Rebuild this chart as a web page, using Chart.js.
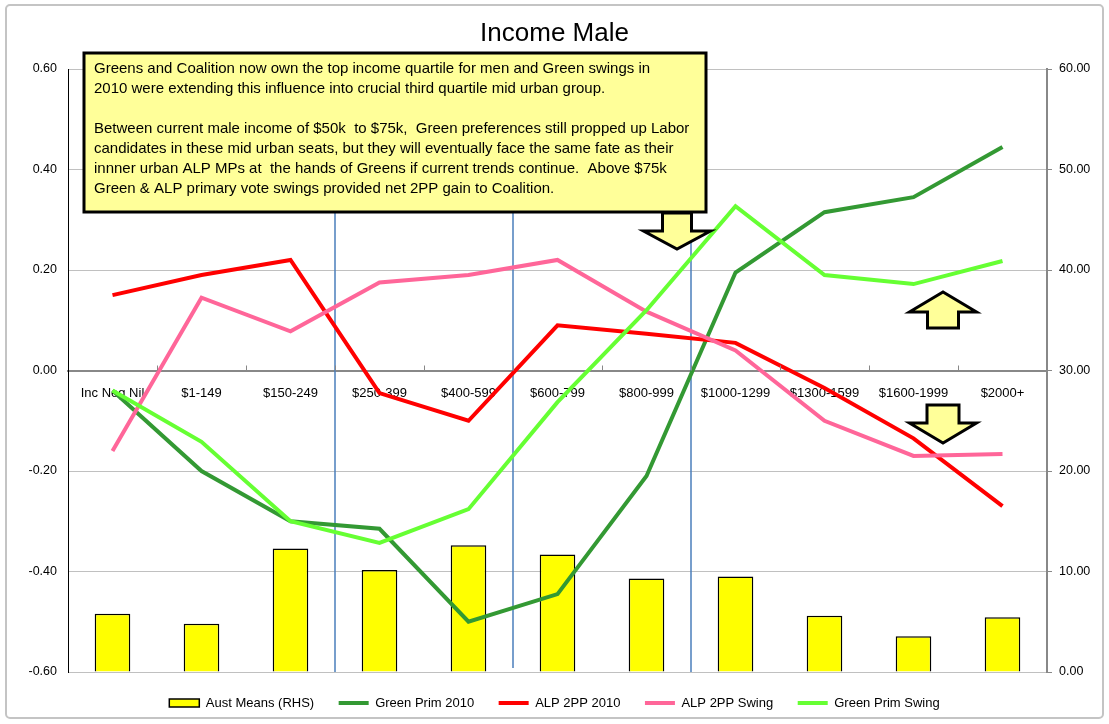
<!DOCTYPE html>
<html>
<head>
<meta charset="utf-8">
<title>Income Male</title>
<script src="https://cdn.jsdelivr.net/npm/chart.js@4.4.1/dist/chart.umd.min.js"></script>
<style>
  html, body { margin: 0; padding: 0; background: #fff; }
</style>
</head>
<body>
<canvas id="incomeChart" width="1109" height="724"></canvas>
<script>
// income groups (weekly male income)
const incomeBands = ["Inc Neg Nil", "$1-149", "$150-249", "$250-399", "$400-599", "$600-799",
  "$800-999", "$1000-1299", "$1300-1599", "$1600-1999", "$2000+"];

// right hand scale - bars
const austMeans = [5.8, 4.8, 12.3, 10.15, 12.6, 11.7, 9.3, 9.5, 5.6, 3.55, 5.45];

// left hand scale - lines
const greenPrim2010 = [-0.04, -0.20, -0.30, -0.315, -0.50, -0.445, -0.21, 0.195, 0.315, 0.345, 0.445];
const alp2pp2010 = [0.15, 0.19, 0.22, -0.045, -0.10, 0.09, 0.073, 0.055, -0.035, -0.135, -0.27];
const alp2ppSwing = [-0.16, 0.145, 0.078, 0.175, 0.19, 0.22, 0.117, 0.04, -0.10, -0.17, -0.166];
const greenPrimSwing = [-0.04, -0.142, -0.30, -0.343, -0.276, -0.063, 0.12, 0.327, 0.19, 0.172, 0.218];

const noteLines = [
  "Greens and Coalition now own the top income quartile for men and Green swings in",
  "2010 were extending this influence into crucial third quartile mid urban group.",
  "",
  "Between current male income of $50k  to $75k,  Green preferences still propped up Labor",
  "candidates in these mid urban seats, but they will eventually face the same fate as their",
  "innner urban ALP MPs at  the hands of Greens if current trends continue.  Above $75k",
  "Green & ALP primary vote swings provided net 2PP gain to Coalition."
];

const FONT = "'Liberation Sans', Arial, sans-serif";
Chart.defaults.font.family = FONT;
Chart.defaults.color = '#000';

function drawArrow(ctx, cx, shaftW, headW, y0, y1, headY) {
  // y0 = shaft end, y1 = tip, headY = where the head starts
  ctx.beginPath();
  ctx.moveTo(cx - shaftW / 2, y0);
  ctx.lineTo(cx - shaftW / 2, headY);
  ctx.lineTo(cx - headW / 2, headY);
  ctx.lineTo(cx, y1);
  ctx.lineTo(cx + headW / 2, headY);
  ctx.lineTo(cx + shaftW / 2, headY);
  ctx.lineTo(cx + shaftW / 2, y0);
  ctx.closePath();
  ctx.fill();
  ctx.stroke();
}

const chartDecor = {
  id: 'chartDecor',
  beforeDraw(chart) {
    const ctx = chart.ctx;
    ctx.save();
    ctx.fillStyle = '#fff';
    ctx.fillRect(0, 0, chart.width, chart.height);
    ctx.strokeStyle = '#c4c4c4';
    ctx.lineWidth = 2;
    ctx.beginPath();
    ctx.roundRect(6, 5, 1097, 713, 4);
    ctx.stroke();
    ctx.restore();
  },
  beforeDatasetsDraw(chart) {
    // blue dividers between groups of income bands
    const ctx = chart.ctx;
    const x = chart.scales.x;
    const area = chart.chartArea;
    const dividers = [{after: 2, top: 213, bottom: area.bottom},
                      {after: 4, top: 213, bottom: area.bottom - 4},
                      {after: 6, top: 242, bottom: area.bottom}];
    ctx.save();
    ctx.strokeStyle = '#4a7ebb';
    ctx.lineWidth = 1.5;
    for (const d of dividers) {
      const px = (x.getPixelForValue(d.after) + x.getPixelForValue(d.after + 1)) / 2;
      ctx.beginPath();
      ctx.moveTo(px, d.top);
      ctx.lineTo(px, d.bottom);
      ctx.stroke();
    }
    ctx.restore();
  },
  afterDraw(chart) {
    const ctx = chart.ctx;
    const x = chart.scales.x;
    const zeroY = chart.scales.y.getPixelForValue(0);
    ctx.save();
    // small tick marks on the category axis, pointing up
    ctx.strokeStyle = '#888';
    ctx.lineWidth = 1;
    for (let i = 0; i < incomeBands.length - 1; i++) {
      const px = Math.round((x.getPixelForValue(i) + x.getPixelForValue(i + 1)) / 2) + 0.5;
      ctx.beginPath();
      ctx.moveTo(px, zeroY);
      ctx.lineTo(px, zeroY - 5);
      ctx.stroke();
    }

    // the comment box
    ctx.fillStyle = '#ffff99';
    ctx.strokeStyle = '#000';
    ctx.lineWidth = 3;
    ctx.fillRect(84, 53, 622, 159);
    ctx.strokeRect(84, 53, 622, 159);
    ctx.fillStyle = '#000';
    ctx.font = '15px ' + FONT;
    ctx.textBaseline = 'middle';
    noteLines.forEach((line, i) => {
      ctx.fillText(line, 94, 69 + i * 20);
    });

    // block arrows
    ctx.fillStyle = '#ffff99';
    ctx.lineJoin = 'miter';
    drawArrow(ctx, 677, 29, 67, 213, 249, 231);
    drawArrow(ctx, 943, 31, 67, 328, 292, 312);
    drawArrow(ctx, 943, 32, 67, 405, 443, 423);
    ctx.restore();
  }
};

const ctx = document.getElementById('incomeChart');
const incomeChart = new Chart(ctx, {
  type: 'bar',
  data: {
    labels: incomeBands,
    datasets: [{
      type: 'bar',
      label: 'Aust Means (RHS)',
      data: austMeans,
      yAxisID: 'y2',
      backgroundColor: '#ffff00',
      borderColor: '#000',
      borderWidth: 1.5,
      barPercentage: 0.4,
      categoryPercentage: 1,
      pointStyle: 'rect',
      order: 5
    }, {
      type: 'line',
      label: 'Green Prim 2010',
      data: greenPrim2010,
      yAxisID: 'y',
      borderColor: '#339933',
      backgroundColor: '#339933',
      borderWidth: 4,
      pointRadius: 0,
      pointStyle: 'line',
      tension: 0,
      order: 4
    }, {
      type: 'line',
      label: 'ALP 2PP 2010',
      data: alp2pp2010,
      yAxisID: 'y',
      borderColor: '#ff0000',
      backgroundColor: '#ff0000',
      borderWidth: 4,
      pointRadius: 0,
      pointStyle: 'line',
      tension: 0,
      order: 3
    }, {
      type: 'line',
      label: 'ALP 2PP Swing',
      data: alp2ppSwing,
      yAxisID: 'y',
      borderColor: '#ff6699',
      backgroundColor: '#ff6699',
      borderWidth: 4,
      pointRadius: 0,
      pointStyle: 'line',
      tension: 0,
      order: 2
    }, {
      type: 'line',
      label: 'Green Prim Swing',
      data: greenPrimSwing,
      yAxisID: 'y',
      borderColor: '#66ff33',
      backgroundColor: '#66ff33',
      borderWidth: 4,
      pointRadius: 0,
      pointStyle: 'line',
      tension: 0,
      order: 1
    }]
  },
  options: {
    responsive: false,
    animation: false,
    layout: { padding: { left: 0, right: 0, top: 0, bottom: 4.5 } },
    plugins: {
      title: {
        display: true,
        text: 'Income Male',
        color: '#000',
        font: { size: 26, weight: 'normal', lineHeight: 1 },
        padding: { top: 21, bottom: 22 }
      },
      legend: {
        position: 'bottom',
        labels: {
          usePointStyle: true,
          pointStyleWidth: 30,
          boxHeight: 8,
          padding: 24.5,
          font: { size: 13 },
          color: '#000',
          sort: (a, b) => a.datasetIndex - b.datasetIndex
        }
      },
      tooltip: { enabled: false }
    },
    scales: {
      x: {
        position: { y: 0 },
        grid: { display: false, drawTicks: false },
        border: { color: '#888', width: 2 },
        ticks: { autoSkip: false, maxRotation: 0, padding: 15, font: { size: 13 }, color: '#000' }
      },
      y: {
        position: 'left',
        min: -0.6,
        max: 0.6,
        ticks: {
          stepSize: 0.2,
          padding: 11,
          font: { size: 12.5 },
          color: '#000',
          callback: v => v.toFixed(2)
        },
        grid: { color: '#c0c0c0', lineWidth: 1, drawTicks: false },
        border: { color: '#000', width: 1 },
        afterFit: scale => { scale.width = 68; }
      },
      y2: {
        position: 'right',
        min: 0,
        max: 60,
        ticks: {
          stepSize: 10,
          padding: 7,
          font: { size: 12.5 },
          color: '#000',
          callback: v => v.toFixed(2)
        },
        grid: { drawOnChartArea: false, color: '#888', tickLength: 5 },
        border: { color: '#888', width: 2 },
        afterFit: scale => { scale.width = 62; }
      }
    }
  },
  plugins: [chartDecor]
});
</script>
</body>
</html>
